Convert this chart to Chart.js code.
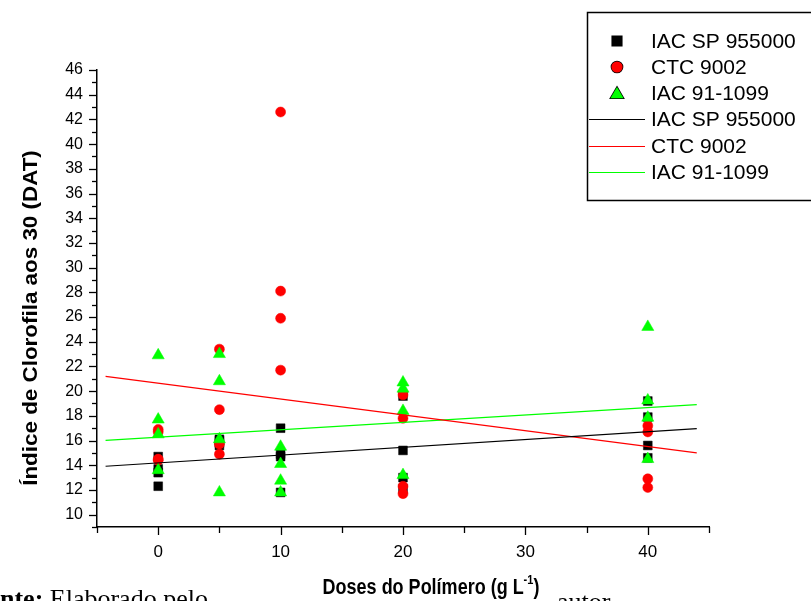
<!DOCTYPE html>
<html>
<head>
<meta charset="utf-8">
<script src="https://cdn.jsdelivr.net/npm/chart.js@4.4.1/dist/chart.umd.min.js"></script>
<style>
  html, body { margin: 0; padding: 0; background: #fff; }
  #wrap { width: 811px; height: 601px; position: relative; overflow: hidden; }
</style>
</head>
<body>
<div id="wrap"><canvas id="chart" width="811" height="601"></canvas></div>
<script>
// doses (g L-1), 4 replicates per dose
const doses = [0, 0, 0, 0, 5, 5, 5, 5, 10, 10, 10, 10, 20, 20, 20, 20, 40, 40, 40, 40];

const iacSP = [14.7, 13.7, 13.4, 12.3, 16.1, 15.8, 15.6, 16.0, 17.0, 14.7, 14.9, 11.8, 19.6, 15.2, 13.0, 12.1, 19.2, 17.9, 15.6, 14.6];
const ctc = [16.9, 16.7, 14.4, 14.5, 23.4, 18.5, 15.7, 14.9, 42.6, 28.1, 25.9, 21.7, 19.7, 17.8, 12.3, 11.7, 17.2, 16.7, 12.9, 12.2];
const iac91 = [22.9, 17.7, 16.5, 13.6, 23.0, 20.8, 16.1, 11.8, 15.5, 14.1, 12.75, 11.8, 20.7, 20.2, 18.4, 13.2, 25.2, 19.25, 17.85, 14.5];

// fitted lines, read at both ends
const fitX = [-4.3, 44];
const fitSP = [13.92, 16.97];
const fitCTC = [21.2, 15.0];
const fit91 = [16.02, 18.9];

const seriesNames = ['IAC SP 955000', 'CTC 9002', 'IAC 91-1099'];
const xTickLabels = [0, 10, 20, 30, 40];
const yTickLabels = [10, 12, 14, 16, 18, 20, 22, 24, 26, 28, 30, 32, 34, 36, 38, 40, 42, 44, 46];

const toPts = (xs, ys) => xs.map((x, i) => ({ x: x, y: ys[i] }));

const FONT = 'Arial, "Liberation Sans", sans-serif';

// ticks, axis titles, legend box and the page text under the figure
const decor = {
    id: 'decor',
    afterDraw(chart) {
        const ctx = chart.ctx;
        const xs = chart.scales.x;
        const ys = chart.scales.y;
        const area = chart.chartArea;
        ctx.save();
        ctx.strokeStyle = '#000';
        ctx.lineWidth = 1.3;

        // tick marks
        ys.ticks.forEach(t => {
            const p = Math.round(ys.getPixelForValue(t.value)) + 0.5;
            const len = t.value % 2 === 0 ? 8 : 5;
            ctx.beginPath();
            ctx.moveTo(area.left, p);
            ctx.lineTo(area.left - len, p);
            ctx.stroke();
        });
        xs.ticks.forEach(t => {
            const p = Math.round(xs.getPixelForValue(t.value)) + 0.5;
            const len = t.value % 10 === 0 ? 8 : 6;
            ctx.beginPath();
            ctx.moveTo(p, area.bottom);
            ctx.lineTo(p, area.bottom + len);
            ctx.stroke();
        });

        // y title
        ctx.fillStyle = '#000';
        ctx.save();
        ctx.translate(37, 318);
        ctx.rotate(-Math.PI / 2);
        ctx.scale(1.12, 1);
        ctx.font = 'bold 20px ' + FONT;
        ctx.textAlign = 'center';
        ctx.textBaseline = 'alphabetic';
        ctx.fillText('Índice de Clorofila aos 30 (DAT)', 0, 0);
        ctx.restore();

        // x title with superscript
        ctx.save();
        ctx.translate(0, 594);
        ctx.scale(1, 1.2);
        ctx.font = 'bold 18px ' + FONT;
        ctx.textBaseline = 'alphabetic';
        const main = 'Doses do Polímero (g L';
        const wMain = ctx.measureText(main).width;
        ctx.font = 'bold 11px ' + FONT;
        const wSup = ctx.measureText('-1').width;
        ctx.font = 'bold 18px ' + FONT;
        const wEnd = ctx.measureText(')').width;
        let x0 = 431 - (wMain + wSup + wEnd) / 2;
        ctx.fillText(main, x0, 0);
        ctx.font = 'bold 11px ' + FONT;
        ctx.fillText('-1', x0 + wMain, -8);
        ctx.font = 'bold 18px ' + FONT;
        ctx.fillText(')', x0 + wMain + wSup, 0);
        ctx.restore();

        // legend box
        ctx.lineWidth = 1.5;
        ctx.strokeStyle = '#000';
        ctx.strokeRect(587.5, 12.5, 240, 188);
        const rows = [41, 67, 93, 119, 146, 172];
        ctx.font = '21px ' + FONT;
        ctx.textBaseline = 'middle';
        ctx.textAlign = 'left';
        chart.data.datasets.forEach((ds, i) => {
            const y = rows[i];
            if (ds.showLine) {
                ctx.strokeStyle = ds.borderColor;
                ctx.lineWidth = 1;
                ctx.beginPath();
                ctx.moveTo(589, y + 0.5);
                ctx.lineTo(645, y + 0.5);
                ctx.stroke();
            } else {
                Chart.helpers.drawPoint(ctx, {
                    pointStyle: ds.pointStyle,
                    radius: ds.pointRadius + 0.6,
                    borderWidth: 0.5,
                    rotation: 0
                }, 617, y + (ds.pointStyle === 'triangle' ? 1.5 : 0));
                ctx.fillStyle = ds.backgroundColor;
                ctx.fill();
            }
            ctx.fillStyle = '#000';
            ctx.fillText(ds.label, 651, y + 1);
        });

        // text of the page under the figure
        ctx.fillStyle = '#000';
        ctx.textBaseline = 'alphabetic';
        ctx.font = 'bold 26px "Liberation Serif", "Times New Roman", serif';
        const wFo = ctx.measureText('Fo').width;
        const wFonte = ctx.measureText('Fonte:').width;
        ctx.fillText('Fonte:', -wFo, 607);
        ctx.font = '26px "Liberation Serif", "Times New Roman", serif';
        ctx.fillText(' Elaborado pelo', -wFo + wFonte, 607);
        ctx.fillText('autor', 557, 610);

        ctx.restore();
    }
};

const bg = {
    id: 'bg',
    beforeDraw(chart) {
        const ctx = chart.ctx;
        ctx.save();
        ctx.fillStyle = '#fff';
        ctx.fillRect(0, 0, chart.width, chart.height);
        ctx.restore();
    }
};

new Chart(document.getElementById('chart'), {
    type: 'scatter',
    data: {
        datasets: [
            { label: seriesNames[0], data: toPts(doses, iacSP), pointStyle: 'rect', pointRadius: 6.2,
              backgroundColor: '#000', borderColor: '#000', borderWidth: 0.5, order: 3 },
            { label: seriesNames[1], data: toPts(doses, ctc), pointStyle: 'circle', pointRadius: 5,
              backgroundColor: '#ff0000', borderColor: '#ff0000', borderWidth: 0.5, order: 2 },
            { label: seriesNames[2], data: toPts(doses, iac91), pointStyle: 'triangle', pointRadius: 7,
              backgroundColor: '#00ff00', borderColor: '#00ff00', borderWidth: 0.5, order: 1 },
            { label: seriesNames[0], data: toPts(fitX, fitSP), showLine: true, pointRadius: 0,
              borderColor: '#000', borderWidth: 1.2, order: 0 },
            { label: seriesNames[1], data: toPts(fitX, fitCTC), showLine: true, pointRadius: 0,
              borderColor: '#ff0000', borderWidth: 1.2, order: 0 },
            { label: seriesNames[2], data: toPts(fitX, fit91), showLine: true, pointRadius: 0,
              borderColor: '#00ff00', borderWidth: 1.2, order: 0 }
        ]
    },
    options: {
        responsive: false,
        animation: false,
        layout: { padding: { left: 0, top: 70, right: 102, bottom: 0 } },
        plugins: { legend: { display: false }, tooltip: { enabled: false } },
        scales: {
            x: {
                type: 'linear',
                min: -5,
                max: 45,
                afterFit: s => { s.height = 74; },
                grid: { display: false, drawTicks: false },
                border: { display: true, color: '#000', width: 1.5 },
                ticks: {
                    stepSize: 5,
                    autoSkip: false,
                    maxRotation: 0,
                    padding: 15,
                    color: '#000',
                    font: { family: FONT, size: 17 },
                    callback: v => xTickLabels.includes(v) ? String(v) : ''
                }
            },
            y: {
                type: 'linear',
                min: 9,
                max: 46,
                afterFit: s => { s.width = 97; },
                grid: { display: false, drawTicks: false },
                border: { display: true, color: '#000', width: 1.5 },
                ticks: {
                    stepSize: 1,
                    autoSkip: false,
                    padding: 14,
                    color: '#000',
                    font: { family: FONT, size: 16 },
                    callback: v => yTickLabels.includes(v) ? String(v) : ''
                }
            }
        }
    },
    plugins: [bg, decor]
});
</script>
</body>
</html>
